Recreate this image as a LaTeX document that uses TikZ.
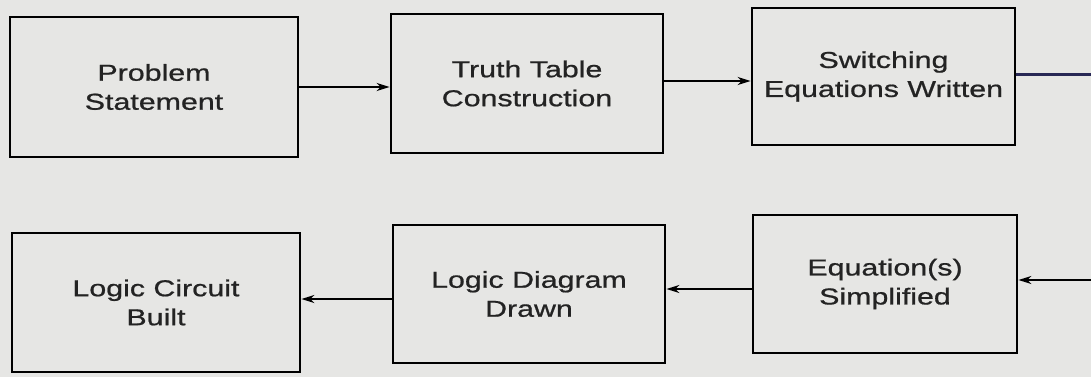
\documentclass[tikz,border=0pt]{standalone}
\usepackage{fontspec}
\setmainfont{Liberation Sans}[FakeStretch=1.32,FakeBold=0.8]
\usetikzlibrary{arrows.meta}

\definecolor{paper}{RGB}{230,230,228}
\definecolor{ink}{RGB}{35,35,35}
\definecolor{pen}{RGB}{40,40,85}

\tikzset{
  stepbox/.style={draw=black, line width=2.8pt, rectangle, align=center,
    text=ink, font=\fontsize{23}{29}\selectfont},
  flow/.style={line width=2pt, -{Stealth[length=13pt,width=8pt]}},
}

\begin{document}
\begin{tikzpicture}[x=1pt,y=-1pt]
      \fill[paper] (0,0) rectangle (1091,377);
      \useasboundingbox (0,0) rectangle (1091,377);
      % top row
      \node[stepbox, minimum width=288pt, minimum height=140pt] (prob) at (154,87) {Problem\\Statement};
      \node[stepbox, minimum width=272pt, minimum height=139pt] (truth) at (527,83.5) {Truth Table\\Construction};
      \node[stepbox, minimum width=263pt, minimum height=137pt] (eqs) at (883.5,76.5) {Switching\\Equations Written};
      % bottom row
      \node[stepbox, minimum width=288pt, minimum height=139pt] (built) at (156,302.5) {Logic Circuit\\Built};
      \node[stepbox, minimum width=272pt, minimum height=138pt] (diag) at (529,294) {Logic Diagram\\Drawn};
      \node[stepbox, minimum width=264pt, minimum height=138pt] (simp) at (885,284) {Equation(s)\\Simplified};
      \coordinate (out) at (1091,75);
      \coordinate (in) at (1091,280);
      \begin{scope}[flow]
        \draw (prob.east) to (prob.east -| truth.west);
        \draw ([yshift=2.5pt]truth.east) to ([yshift=2.5pt]truth.east -| eqs.west);
        \draw (in) to (in -| simp.east);
        \draw ([yshift=-5pt]simp.west) to ([yshift=-5pt]simp.west -| diag.east);
        \draw ([yshift=-5pt]diag.west) to ([yshift=-5pt]diag.west -| built.east);
      \end{scope}
      \draw[pen, line width=3pt] (eqs.east |- out) -- (out);
    \end{tikzpicture}
\end{document}
